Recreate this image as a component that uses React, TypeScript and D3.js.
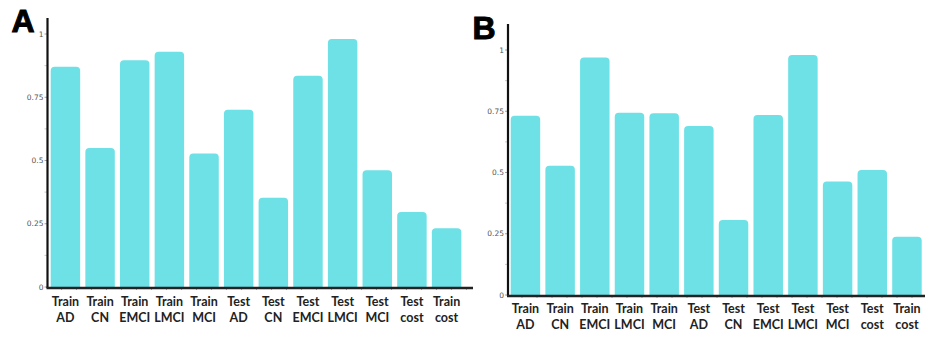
import React from "react";
import * as d3 from "d3";

const categories = [
  ["Train", "AD"], ["Train", "CN"], ["Train", "EMCI"], ["Train", "LMCI"], ["Train", "MCI"],
  ["Test", "AD"], ["Test", "CN"], ["Test", "EMCI"], ["Test", "LMCI"], ["Test", "MCI"],
  ["Test", "cost"], ["Train", "cost"],
];
const valuesA = [0.871, 0.549, 0.896, 0.93, 0.528, 0.701, 0.353, 0.835, 0.98, 0.461, 0.296, 0.232];
const valuesB = [0.732, 0.528, 0.969, 0.744, 0.742, 0.69, 0.306, 0.735, 0.98, 0.463, 0.51, 0.238];
const yTicks = [0, 0.25, 0.5, 0.75, 1];
const yTickLabels = ["0", "0.25", "0.5", "0.75", "1"];

const BAR = "#6de1e6";

type PanelProps = {
  letter: string;
  values: number[];
  axisX: number;
  axisTop: number;
  axisRight: number;
  y0: number;
  y1: number;
  bandRange: [number, number];
  label1: number;
  label2: number;
  letterX: number;
  letterY: number;
};

function topRounded(x: number, y: number, w: number, h: number, r: number) {
  const p = d3.path();
  p.moveTo(x, y + h);
  p.lineTo(x, y + r);
  p.arcTo(x, y, x + r, y, r);
  p.lineTo(x + w - r, y);
  p.arcTo(x + w, y, x + w, y + r, r);
  p.lineTo(x + w, y + h);
  p.closePath();
  return p.toString();
}

function Panel(p: PanelProps) {
  const keys = categories.map((c) => c.join(" "));
  const x = d3.scaleBand<string>().domain(keys).range(p.bandRange).paddingInner(0.15).paddingOuter(0.075);
  const y = d3.scaleLinear().domain([0, 1]).range([p.y0, p.y1]);
  const minor = d3.range(0.125, 1.1, 0.25);
  const xMinor = d3.range(p.axisX + 14, p.axisRight - 4, 15);
  return (
    <g>
      <text x={p.letterX} y={p.letterY} fontFamily="'Liberation Sans', Arial, sans-serif" fontWeight={700} fontSize={32} fill="#000" stroke="#000" strokeWidth={1}>
        {p.letter}
      </text>
      {p.values.map((v, i) => (
        <path key={i} d={topRounded(x(keys[i])!, y(v), x.bandwidth(), y(0) - y(v), 4)} fill={BAR} />
      ))}
      {minor.map((m, i) => (
        <line key={"m" + i} x1={p.axisX - 3} x2={p.axisX} y1={y(m)} y2={y(m)} stroke="#bbb" strokeWidth={0.8} />
      ))}
      {xMinor.map((m, i) => (
        <line key={"xm" + i} x1={m} x2={m} y1={y(0) + 1} y2={y(0) + 3} stroke="#999" strokeWidth={0.8} />
      ))}
      {yTicks.map((t, i) => (
        <g key={"t" + i}>
          <line x1={p.axisX - 3} x2={p.axisX} y1={y(t)} y2={y(t)} stroke="#888" strokeWidth={0.8} />
          <text x={p.axisX - 4} y={y(t)} dy="0.35em" textAnchor="end" fontFamily="'DejaVu Sans', sans-serif" fontSize={7.5} fill="#555">
            {yTickLabels[i]}
          </text>
        </g>
      ))}
      <line x1={p.axisX} x2={p.axisX} y1={p.axisTop} y2={y(0) + 1} stroke="#111" strokeWidth={2.2} />
      <line x1={p.axisX - 1} x2={p.axisRight} y1={y(0) + 1} y2={y(0) + 1} stroke="#222" strokeWidth={2.4} />
      {categories.map((c, i) => {
        const cx = x(keys[i])! + x.bandwidth() / 2;
        return (
          <text key={"l" + i} textAnchor="middle" fontFamily="Lato, sans-serif" fontWeight={700} fontSize={12.5} fill="#222">
            <tspan x={cx} y={p.label1}>{c[0]}</tspan>
            <tspan x={cx} y={p.label2}>{c[1]}</tspan>
          </text>
        );
      })}
    </g>
  );
}

export default function App() {
  return (
    <svg width={925} height={337} style={{ position: "absolute", left: 0, top: 0, background: "#fff" }}>
      <rect width={925} height={337} fill="#fff" />
      <Panel letter="A" values={valuesA} axisX={47.5} axisTop={18} axisRight={473} y0={287} y1={34}
        bandRange={[48.1, 463.9]} label1={306} label2={322} letterX={11.5} letterY={31.5} />
      <Panel letter="B" values={valuesB} axisX={508} axisTop={24} axisRight={925} y0={295} y1={50}
        bandRange={[508.1, 924.3]} label1={312.5} label2={329} letterX={472.5} letterY={38.5} />
    </svg>
  );
}
